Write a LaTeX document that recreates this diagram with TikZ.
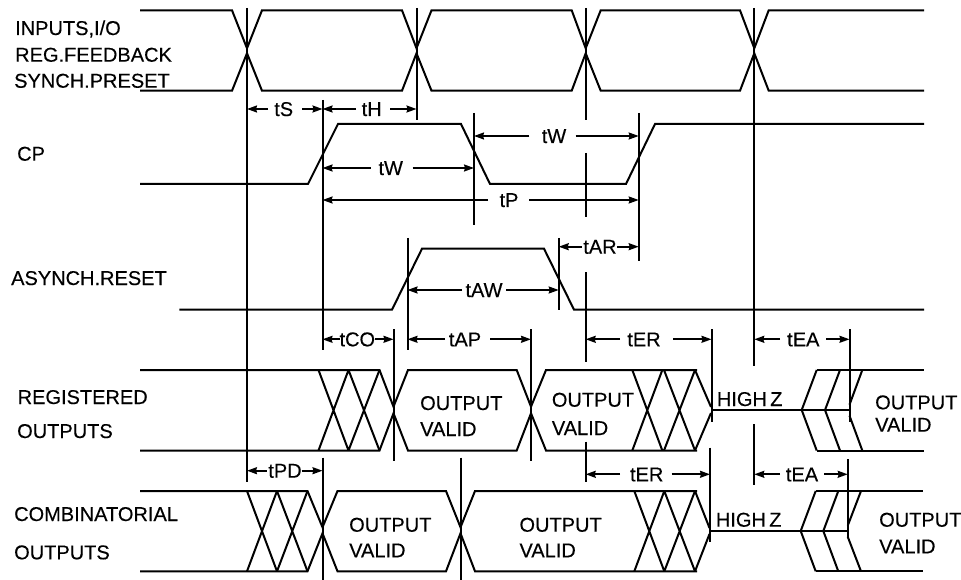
\documentclass[tikz,border=0pt]{standalone}
\usepackage{fontspec}
\setmainfont{Liberation Sans}[FakeBold=0.3]
\usetikzlibrary{arrows.meta}
\tikzset{
  wave/.style={line width=2pt,line join=miter,miter limit=3},
  tick/.style={line width=2pt},
  dimarrow/.style={line width=1.7pt,-{Stealth[length=10pt,width=7pt,inset=1pt]}},
  sig/.style={anchor=base west,inner sep=0pt,font=\fontsize{20}{24}\selectfont},
  dimlabel/.style={anchor=base,inner sep=0pt,font=\fontsize{20}{24}\selectfont}
}
% vertical timing line: name, x, y1, y2
\newcommand{\tickline}[4]{%
  \coordinate (#1a) at (#2,#3);
  \coordinate (#1b) at (#2,#4);
  \draw[tick] (#1a) -- (#1b);}
% dimension: name, xa, xb, y, text, xcentre, gapL, gapR
\newcommand{\dimline}[8]{%
  \coordinate (#1a) at (#2,#4);
  \coordinate (#1b) at (#3,#4);
  \coordinate (#1l) at (#7,#4);
  \coordinate (#1r) at (#8,#4);
  \node[dimlabel] (#1) at (#6,#4+7) {#5};
  \draw[dimarrow] (#1l) -- (#1a);
  \draw[dimarrow] (#1r) -- (#1b);}
\begin{document}
\begin{tikzpicture}[x=1pt,y=-1pt]
\fill[white] (0,0) rectangle (961,580);
\useasboundingbox (0,0) rectangle (961,580);

% signal names
\node[sig] (n1) at (15,35) {INPUTS,I/O};
\node[sig] (n2) at (15,61.7) {REG.FEEDBACK};
\node[sig] (n3) at (14,87.7) {SYNCH.PRESET};
\node[sig] (n4) at (17,160.7) {CP};
\node[sig] (n5) at (11,285) {ASYNCH.RESET};
\node[sig] (n6) at (17.5,404) {REGISTERED};
\node[sig] (n7) at (17,438) {OUTPUTS};
\node[sig] (n8) at (14,521) {COMBINATORIAL};
\node[sig] (n9) at (14,559.3) {OUTPUTS};

% inputs
\draw[wave] (140,10.3)--(232,10.3)--(247,48.3)--(262,10.3)--(402,10.3)--(416.5,48.3)--(431.5,10.3)--(571.7,10.3)--(585.7,48.3)--(600.7,10.3)--(740,10.3)--(754.3,48.3)--(768.7,10.3)--(924,10.3);
\draw[wave] (140,90.7)--(232,90.7)--(247,53.3)--(262,90.7)--(402,90.7)--(416.5,53.3)--(431.5,90.7)--(571.7,90.7)--(585.7,53.3)--(600.7,90.7)--(740,90.7)--(754.3,53.3)--(768.7,90.7)--(924,90.7);

% CP
\draw[wave] (140,184)--(308,184)--(338,124)--(461,124)--(490,184)--(626,184)--(655,124)--(924,124);
% async reset
\draw[wave] (179.3,309.7)--(392,309.7)--(422,248.7)--(544,248.7)--(574,309.7)--(924,309.7);

% registered outputs
\draw[wave] (140,370)--(379.5,370)--(393.5,406.7)--(408,370)--(516.7,370)--(531,406.7)--(546,370)--(697,370);
\draw[wave] (140,450.5)--(379.5,450.5)--(393.5,413.3)--(408,450.5)--(516.7,450.5)--(531,413.3)--(546,450.5)--(697,450.5);
\draw[wave] (318.5,370)--(348.5,450.5)  (318.5,450.5)--(348.5,370)
            (348.5,370)--(379.5,450.5)  (348.5,450.5)--(379.5,370)
            (632.3,370)--(662.3,450.5)  (632.3,450.5)--(662.3,370)
            (664,370)--(695,450.5)      (664,450.5)--(695,370)
            (695,370)--(711,407)        (695,450.5)--(711,413);
\draw[wave] (711.5,410)--(849.5,410);
\draw[wave] (816.7,370)--(801.7,410)--(816.7,450.5);
\draw[wave] (840,370)--(825,410)--(840,450.5);
\draw[wave] (849.5,404.7)--(862.3,370);
\draw[wave] (849.5,415.7)--(862.3,450.5);
\draw[wave] (816.7,370)--(924,370);
\draw[wave] (816.7,450.5)--(924,450.5);

% combinatorial outputs
\draw[wave] (140,491)--(307.5,491)--(322.5,527.3)--(337.5,491)--(446,491)--(460.5,527.3)--(475,491)--(697,491);
\draw[wave] (140,571.3)--(307.5,571.3)--(322.5,533.3)--(337.5,571.3)--(446,571.3)--(460.5,533.3)--(475,571.3)--(697,571.3);
\draw[wave] (247,491)--(277,571.3)  (247,571.3)--(277,491)
            (277,491)--(307.5,571.3)  (277,571.3)--(307.5,491)
            (634.3,491)--(664.3,571.3)  (634.3,571.3)--(664.3,491)
            (664.3,491)--(695,571.3)  (664.3,571.3)--(695,491)
            (695,491)--(709.5,528)  (695,571.3)--(709.5,534);
\draw[wave] (710,531)--(847.7,531);
\draw[wave] (815.7,491)--(800.7,531)--(815.7,571.3);
\draw[wave] (838.3,491)--(823.3,531)--(838.3,571.3);
\draw[wave] (847.7,525.7)--(861,491);
\draw[wave] (847.7,536.7)--(861,571.3);
\draw[wave] (815.7,491)--(923.3,491);
\draw[wave] (815.7,571.3)--(923.3,571.3);

% vertical timing lines
\tickline{va}{247}{8}{481.7}
\tickline{vb}{416.5}{8}{120}
\tickline{vc}{322.5}{100}{350}
\tickline{vd}{322.5}{457.7}{580}
\tickline{ve}{474}{113}{225}
\tickline{vf}{585.7}{8}{120}
\tickline{vg}{585.7}{153}{217}
\tickline{vh}{585.7}{272}{361.7}
\tickline{vi}{585.7}{441.7}{481.7}
\tickline{vj}{754.3}{8}{366}
\tickline{vk}{754.3}{424}{485}
\tickline{vl}{638.7}{113}{261}
\tickline{vm}{558.7}{238}{310}
\tickline{vn}{407.5}{238}{350}
\tickline{vo}{393.5}{329}{460.7}
\tickline{vp}{531}{329}{460.7}
\tickline{vq}{460.5}{457.7}{580}
\tickline{vr}{711.5}{329}{421.7}
\tickline{vs}{710}{447.7}{541.7}
\tickline{vt}{849.5}{329}{421.7}
\tickline{vu}{847.7}{459}{538}

% timing dimensions
\dimline{tS}{247}{322.5}{109}{tS}{283.7}{268}{302}
\dimline{tH}{322.5}{416.5}{109}{tH}{371.7}{356}{390}
\dimline{tWa}{322.5}{474}{168}{tW}{390.7}{370.7}{412.7}
\dimline{tP}{322.5}{638.7}{200}{tP}{509}{488}{529}
\dimline{tWb}{474}{638.7}{136}{tW}{554}{529.3}{575.7}
\dimline{tAR}{558.7}{638.7}{246.7}{tAR}{600}{581.7}{617}
\dimline{tAW}{407.5}{558.7}{290}{tAW}{484}{462}{506}
\dimline{tCO}{322.5}{393.5}{339.3}{tCO}{357.3}{340}{375}
\dimline{tAP}{407.5}{531}{339.3}{tAP}{465}{445}{490}
\dimline{tERa}{585.7}{711.5}{339.3}{tER}{644}{620}{673}
\dimline{tEAa}{754.3}{849.5}{339.3}{tEA}{803.3}{780}{826}
\dimline{tPD}{247}{322.5}{470.7}{tPD}{285}{266.7}{301.7}
\dimline{tERb}{585.7}{710}{474.3}{tER}{646.7}{620}{671.7}
\dimline{tEAb}{754.3}{847.7}{474.3}{tEA}{802}{780}{824}

% output valid and high-Z labels
\node[sig] (ra1) at (420,410) {OUTPUT};
\node[sig] (ra2) at (420,436) {VALID};
\node[sig] (rb1) at (551.7,406.7) {OUTPUT};
\node[sig] (rb2) at (551.7,435) {VALID};
\node[sig] (rc1) at (875,409.3) {OUTPUT};
\node[sig] (rc2) at (875,431.7) {VALID};
\node[sig] (ca1) at (349,531.7) {OUTPUT};
\node[sig] (ca2) at (349,557.3) {VALID};
\node[sig] (cb1) at (519.3,531.7) {OUTPUT};
\node[sig] (cb2) at (519.3,557.3) {VALID};
\node[sig] (cc1) at (879,526.7) {OUTPUT};
\node[sig] (cc2) at (879,553.3) {VALID};
\node[sig] (hz1) at (716.7,406) {HIGH\,Z};
\node[sig] (hz2) at (715.7,526.7) {HIGH\,Z};
\end{tikzpicture}
\end{document}
